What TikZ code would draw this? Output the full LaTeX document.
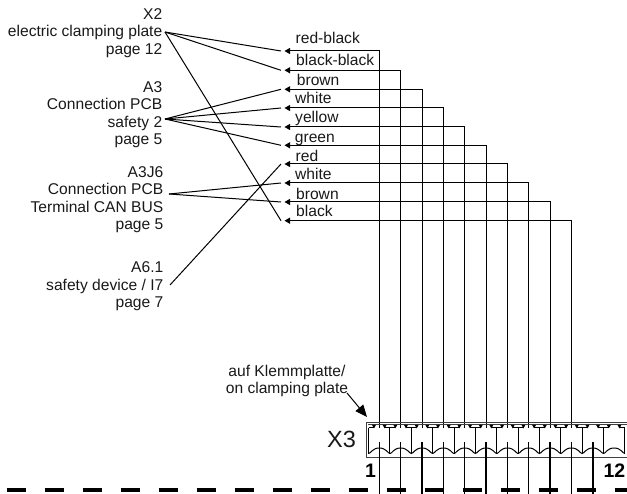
\documentclass[tikz,border=0pt]{standalone}
\usepackage{fontspec}
\setmainfont{Liberation Sans}
\usetikzlibrary{arrows.meta}
\tikzset{
  lbl/.style={font=\fontsize{15.6}{17.5}\selectfont,inner sep=0pt,text=black!90},
  leftlbl/.style={lbl,align=right,anchor=north east},
  wirelbl/.style={lbl,anchor=base west,yshift=-1pt},
  wire/.style={line width=1pt,black},
  lead/.style={line width=1pt,black},
  tip/.style={-{Triangle[length=5.5pt,width=6pt]}},
  lower/.style={line width=1.4pt,black},
  frame/.style={line width=0.9pt,black!75},
  pin/.style={line width=1pt,black},
}
\begin{document}
\begin{tikzpicture}[x=1pt,y=-1pt]
\useasboundingbox (0,0) rectangle (627,494);
% left labels
\node[leftlbl] (x2) at (162.5,8) {X2\\electric clamping plate\\page 12};
\node[leftlbl] (a3) at (162.5,81) {A3\\Connection PCB\\safety 2\\page 5};
\node[leftlbl] (a3j6) at (163.5,166) {A3J6\\Connection PCB\\Terminal CAN BUS\\page 5};
\node[leftlbl] (a61) at (163.5,261.7) {A6.1\\safety device / I7\\page 7};
\coordinate (x2o) at (165,32);
\coordinate (a3o) at (165,119);
\coordinate (a3j6o) at (169,194);
\coordinate (a61o) at (170,285);
% terminals
\def\pitch{21.35}
\foreach \k in {1,...,12}{
  \coordinate (t\k) at ({379.3+(\k-1)*\pitch},428);
  \coordinate (b\k) at ({379.3+(\k-1)*\pitch},442);
  \coordinate (e\k) at ({379.3+(\k-1)*\pitch},494);
}
% wires and labels
\foreach \k/\yy/\by/\lx/\txt in {
  1/51/43/295.5/red-black,
  2/70.3/64.5/296/black-black,
  3/89.3/85/296.7/brown,
  4/108/103/295/white,
  5/127/121.7/295/yellow,
  6/145.3/141.7/294.7/green,
  7/164/160.7/295.5/red,
  8/183/179/295/white,
  9/202/199/296/brown,
  10/220.7/215.7/296/black}{
  \coordinate (w\k) at (284.5,\yy);
  \coordinate (l\k) at (281,\yy);
  \node[wirelbl] (n\k) at (\lx,\by) {\txt};
  \draw[wire,tip] (t\k) |- (w\k);
}
% leader lines
\foreach \a/\b in {x2o/l1,x2o/l2,x2o/l10,a3o/l3,a3o/l4,a3o/l5,a3o/l6,a3j6o/l8,a3j6o/l9,a61o/l7}{
  \draw[lead] (\a) -- (\b);
}
% terminal strip
\draw[frame] (366.2,457) -- (366.2,422.6) -- (627,422.6);
\draw[frame] (366.2,457) -- (627,457);
\draw[frame] (367.8,424.8) -- (627,424.8);
\foreach \k in {1,...,12}{
  \begin{scope}[shift={(t\k)}]
    \fill[black] (-7.2,-3) -- (-3.4,-3) -- (-5.3,0.4) -- cycle;
    \fill[black] (3.4,-3) -- (7.2,-3) -- (5.3,0.4) -- cycle;
    \draw[pin] (-10.67,0) -- (-5.3,0);
    \draw[pin] (5.3,0) -- (10.67,0);
    \draw[pin] (-10.67,0) -- (-10.67,25.5);
    \draw[pin] (10.67,0) -- (10.67,25.5);
    \draw[pin] (-10.67,25.5) .. controls (-8.5,25.5) and (-7,20) .. (0,20) .. controls (7,20) and (8.5,25.5) .. (10.67,25.5);
  \end{scope}
}
\foreach \k in {1,...,11}{
  \draw[lower] (b\k) -- (e\k);
}
% dashed base line
\coordinate (ds) at (6.7,490);
\coordinate (de) at (627,490);
\draw[line width=3.4pt,dash pattern=on 19pt off 19pt] (ds) -- (de);
% lower texts
\node[inner sep=0pt,anchor=base west,font=\fontsize{23.5}{24}\selectfont,text=black!90] (x3) at (327,448) {X3};
\node[inner sep=0pt,anchor=base west,font=\fontsize{19.5}{20}\selectfont\bfseries] (one) at (365,478) {1};
\node[inner sep=0pt,anchor=base east,font=\fontsize{19.5}{20}\selectfont\bfseries] (twelve) at (625.5,478) {12};
\node[lbl,align=center,anchor=north] (note) at (287,364.5) {auf Klemmplatte/\\on clamping plate};
\coordinate (ns) at (347,393);
\coordinate (nt) at (367,417);
\draw[line width=1pt,-{Triangle[length=12pt,width=10pt]}] (ns) -- (nt);
\end{tikzpicture}
\end{document}
